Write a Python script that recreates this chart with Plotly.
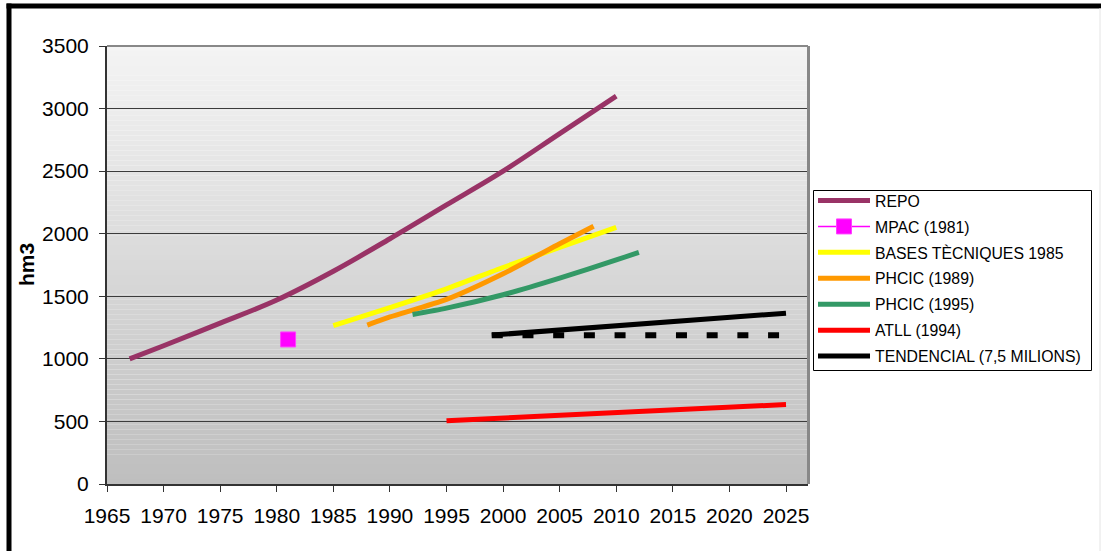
import plotly.graph_objects as go

# ---- data ----
repo_x = [1967, 1970, 1975, 1980, 1985, 1990, 1995, 2000, 2005, 2010]
repo_y = [1000, 1105, 1285, 1470, 1700, 1960, 2230, 2500, 2800, 3100]

mpac_x = [1981]
mpac_y = [1155]

bases_x = [1985, 1990, 1995, 2000, 2005, 2010]
bases_y = [1265, 1410, 1560, 1730, 1890, 2050]

phcic89_x = [1988, 1990, 1995, 2000, 2005, 2008]
phcic89_y = [1270, 1335, 1475, 1680, 1920, 2060]

phcic95_x = [1992, 1995, 2000, 2005, 2010, 2012]
phcic95_y = [1355, 1405, 1512, 1645, 1790, 1850]

atll_x = [1995, 2025]
atll_y = [505, 635]

tend_x = [1999, 2025]
tend_y = [1190, 1365]

flat_x = [1999, 2025]
flat_y = [1188, 1188]

x_ticks = list(range(1965, 2030, 5))
y_ticks = list(range(0, 3501, 500))

# ---- layout constants ----
W, H = 1101, 551
L, R, T, B = 107, W - 808, 46, H - 484
PW, PH = W - L - R, H - T - B

def px_x(p):
    return (p - L) / PW

def px_y(p):
    return (H - B - p) / PH

FONT = "Liberation Sans, Arial, sans-serif"

fig = go.Figure()

fig.add_trace(go.Scatter(x=repo_x, y=repo_y, name="REPO", mode="lines",
                         line=dict(color="#993366", width=5, shape="spline", smoothing=1.0)))
fig.add_trace(go.Scatter(x=mpac_x, y=mpac_y, name="MPAC (1981)", mode="lines+markers",
                         line=dict(color="#FF00FF", width=1.5),
                         marker=dict(symbol="square", size=15, color="#FF00FF",
                                     line=dict(color="#FF40FF", width=1))))
fig.add_trace(go.Scatter(x=bases_x, y=bases_y, name="BASES TÈCNIQUES 1985", mode="lines",
                         line=dict(color="#FFFF00", width=5, shape="spline", smoothing=0.6)))
fig.add_trace(go.Scatter(x=phcic89_x, y=phcic89_y, name="PHCIC (1989)", mode="lines",
                         line=dict(color="#FF9900", width=5, shape="spline", smoothing=0.6)))
fig.add_trace(go.Scatter(x=phcic95_x, y=phcic95_y, name="PHCIC (1995)", mode="lines",
                         line=dict(color="#339966", width=5, shape="spline", smoothing=0.6)))
fig.add_trace(go.Scatter(x=atll_x, y=atll_y, name="ATLL (1994)", mode="lines",
                         line=dict(color="#FF0000", width=5)))
fig.add_trace(go.Scatter(x=tend_x, y=tend_y, name="TENDENCIAL (7,5 MILIONS)", mode="lines",
                         line=dict(color="#000000", width=5)))
fig.add_trace(go.Scatter(x=flat_x, y=flat_y, showlegend=False, mode="lines",
                         line=dict(color="#000000", width=6, dash="11px,19.7px")))

shapes = []
# gradient plot background
N = 88
top_c, bot_c = 244, 190
for i in range(N):
    c = round(top_c + (bot_c - top_c) * (i + 0.5) / N)
    shapes.append(dict(type="rect", xref="paper", yref="paper",
                       x0=0, x1=1, y0=1 - (i + 1) / N, y1=1 - i / N,
                       fillcolor=f"rgb({c},{c},{c})", line=dict(width=0), layer="below"))
# gray top/right frame of plot area
shapes.append(dict(type="line", xref="paper", yref="paper", x0=0, x1=1, y0=1, y1=1,
                   line=dict(color="#888888", width=2), layer="above"))
shapes.append(dict(type="line", xref="paper", yref="paper", x0=px_x(808.5), x1=px_x(808.5),
                   y0=0, y1=1, line=dict(color="#888888", width=3), layer="above"))
# outer black frame (top and left)
shapes.append(dict(type="line", xref="paper", yref="paper", x0=px_x(6.5), x1=px_x(W + 5),
                   y0=px_y(6), y1=px_y(6), line=dict(color="#000000", width=5), layer="above"))
shapes.append(dict(type="line", xref="paper", yref="paper", x0=px_x(9), x1=px_x(9),
                   y0=px_y(3.5), y1=px_y(H + 5), line=dict(color="#000000", width=5), layer="above"))
shapes.append(dict(type="line", xref="paper", yref="paper", x0=px_x(1100), x1=px_x(1100),
                   y0=px_y(8), y1=px_y(H + 5), line=dict(color="#e4e4e4", width=1), layer="above"))
# legend box
shapes.append(dict(type="rect", xref="paper", yref="paper",
                   x0=px_x(813.5), x1=px_x(1091.5), y0=px_y(370.5), y1=px_y(190.5),
                   fillcolor="white", line=dict(color="black", width=1), layer="above"))

fig.update_layout(
    width=W, height=H,
    margin=dict(l=L, r=R, t=T, b=B, pad=0),
    paper_bgcolor="white",
    plot_bgcolor="rgba(0,0,0,0)",
    font=dict(family=FONT, color="black", size=21),
    shapes=shapes,
    showlegend=True,
    legend=dict(x=px_x(813), y=px_y(183.7), xanchor="left", yanchor="top",
                bgcolor="rgba(0,0,0,0)", borderwidth=0,
                font=dict(family=FONT, size=15.8, color="black"),
                itemwidth=52, traceorder="grouped", tracegroupgap=2.4,
                itemclick=False),
    annotations=[dict(text="<b>hm3</b>", xref="paper", yref="paper",
                      x=px_x(26), y=0.5, xanchor="center", yanchor="middle",
                      textangle=-90, showarrow=False,
                      font=dict(family=FONT, size=21, color="black"))],
)

fig.update_xaxes(range=[1965, 1965 + (808 - 107) / (679 / 60)], tickmode="array",
                 tickvals=x_ticks, ticktext=[str(v) for v in x_ticks],
                 ticks="outside", ticklen=6, tickwidth=1, tickcolor="#333333",
                 ticklabelstandoff=6,
                 showline=True, linecolor="#333333", linewidth=2,
                 showgrid=False, zeroline=False,
                 tickfont=dict(family=FONT, size=21, color="black"))
fig.update_yaxes(range=[0, 3500], tickmode="array", tickvals=y_ticks,
                 ticktext=[str(v) for v in y_ticks],
                 ticks="outside", ticklen=6, tickwidth=1, tickcolor="#333333",
                 ticklabelstandoff=6,
                 showline=True, linecolor="#333333", linewidth=2,
                 showgrid=True, gridcolor="#3c3c3c", gridwidth=1, zeroline=False,
                 tickfont=dict(family=FONT, size=21, color="black"))

for i, tr in enumerate(fig.data):
    tr.legendgroup = f"g{i}"

fig.write_html("out.html")
